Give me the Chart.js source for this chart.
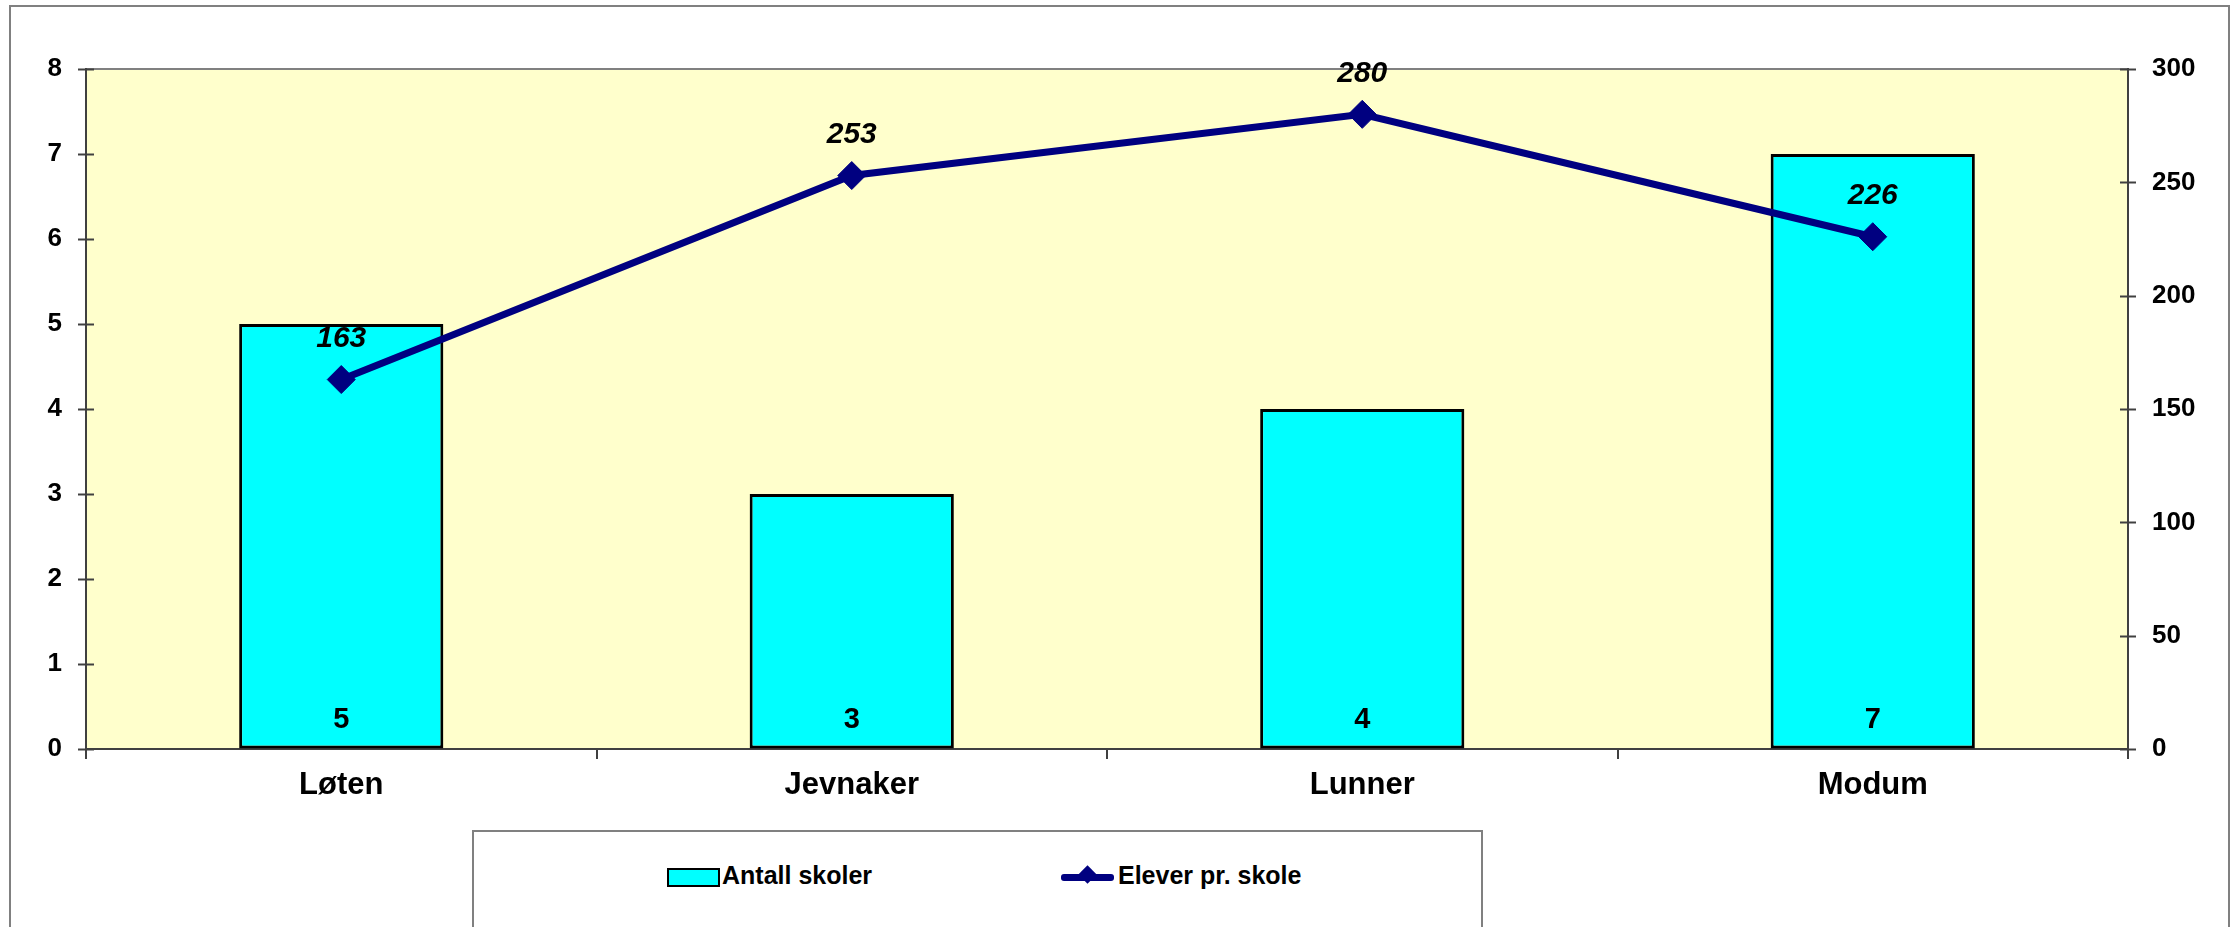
<!DOCTYPE html>
<html>
<head>
<meta charset="utf-8">
<script src="https://cdn.jsdelivr.net/npm/chart.js@4/dist/chart.umd.min.js"></script>
<style>
  body { margin: 0; background: #fff; }
  #wrap { position: relative; width: 2236px; height: 927px; }
  #legend {
    position: absolute; left: 472px; top: 830px; width: 1011px; height: 100px;
    border: 2px solid #808080; box-sizing: border-box; background: #fff;
    font-family: "Liberation Sans Narrow", "Arial Narrow", "Liberation Sans", sans-serif;
    font-weight: bold; font-size: 25px; color: #000;
  }
  .item { position: absolute; top: 28px; height: 30px; line-height: 30px; white-space: nowrap; }
  .swatch { display: inline-block; vertical-align: middle; }
  .box { width: 49px; height: 15px; background: #00ffff; border: 2px solid #000; margin-right: 2px; }
  .ln { position: relative; width: 53px; height: 7px; background: #000080; border-radius: 3px; margin-right: 4px; }
  .ln::after { content: ""; position: absolute; left: 20px; top: -6px; width: 13px; height: 13px;
    background: #000080; transform: rotate(45deg); }
</style>
</head>
<body>
<div id="wrap">
  <canvas id="chart" width="2236" height="927"></canvas>
  <div id="legend">
    <div class="item" style="left:193px"><span class="swatch box"></span>Antall skoler</div>
    <div class="item" style="left:587px"><span class="swatch ln"></span>Elever pr. skole</div>
  </div>
</div>
<script>
const kommuner = ["Løten", "Jevnaker", "Lunner", "Modum"];
const antallSkoler = [5, 3, 4, 7];
const eleverPrSkole = [163, 253, 280, 226];

const fontFam = '"Liberation Sans Narrow", "Arial Narrow", "Liberation Sans", sans-serif';

// bakgrunn, ramme og kryssende tick-streker
const rammePlugin = {
    id: "ramme",
    beforeDraw(chart) {
        const ctx = chart.ctx, a = chart.chartArea;
        ctx.save();
        ctx.fillStyle = "#ffffff";
        ctx.fillRect(0, 0, chart.width, chart.height);
        ctx.strokeStyle = "#808080";
        ctx.lineWidth = 2;
        ctx.strokeRect(10, 6, 2219, 940);
        ctx.fillStyle = "#ffffcc";
        ctx.fillRect(a.left, a.top, a.right - a.left, a.bottom - a.top);
        ctx.beginPath();
        ctx.moveTo(a.left, a.top);
        ctx.lineTo(a.right, a.top);
        ctx.stroke();
        ctx.restore();
    },
    afterDraw(chart) {
        const ctx = chart.ctx, a = chart.chartArea;
        ctx.save();
        ctx.strokeStyle = "#404040";
        ctx.lineWidth = 2;
        ["y", "y1"].forEach(id => {
            const s = chart.scales[id];
            const x = id === "y" ? a.left : a.right;
            s.ticks.forEach(t => {
                const py = Math.round(s.getPixelForValue(t.value)) + 0.5;
                ctx.beginPath();
                ctx.moveTo(x - 8, py);
                ctx.lineTo(x + 8, py);
                ctx.stroke();
            });
        });
        ctx.restore();
    }
};

// verdier på søyler og linje
const etikettPlugin = {
    id: "etiketter",
    afterDatasetsDraw(chart) {
        const ctx = chart.ctx;
        ctx.save();
        ctx.fillStyle = "#000";
        ctx.textAlign = "center";
        ctx.textBaseline = "middle";
        const bars = chart.getDatasetMeta(0).data;
        ctx.font = "bold 29px " + fontFam;
        bars.forEach((b, i) => ctx.fillText(antallSkoler[i], b.x, b.base - 29));
        const pts = chart.getDatasetMeta(1).data;
        ctx.font = "italic bold 30px " + fontFam;
        pts.forEach((p, i) => ctx.fillText(eleverPrSkole[i], p.x, p.y - 41));
        ctx.restore();
    }
};

new Chart(document.getElementById("chart").getContext("2d"), {
    data: {
        labels: kommuner,
        datasets: [
            {
                type: "bar", label: "Antall skoler", data: antallSkoler, yAxisID: "y",
                backgroundColor: "#00ffff", borderColor: "#000000", borderWidth: 3,
                borderSkipped: false, barPercentage: 0.4, categoryPercentage: 1, order: 2
            },
            {
                type: "line", label: "Elever pr. skole", data: eleverPrSkole, yAxisID: "y1",
                borderColor: "#000080", backgroundColor: "#000080", borderWidth: 7,
                pointStyle: "rectRot", pointRadius: 14, pointBorderWidth: 1, tension: 0, order: 1
            }
        ]
    },
    options: {
        responsive: false,
        animation: false,
        layout: { padding: { top: 69, left: 0, right: 0, bottom: 0 } },
        plugins: { legend: { display: false }, tooltip: { enabled: false } },
        scales: {
            x: {
                offset: true,
                grid: { offset: true, drawOnChartArea: false, tickLength: 10, color: "#404040", lineWidth: 2 },
                border: { color: "#404040", width: 2 },
                ticks: { color: "#000", font: { family: fontFam, size: 31, weight: "bold" }, padding: 8 },
                afterFit(s) { s.height = 178; }
            },
            y: {
                position: "left", min: 0, max: 8,
                ticks: { stepSize: 1, color: "#000", font: { family: fontFam, size: 26, weight: "bold" }, padding: 24 },
                grid: { drawOnChartArea: false, drawTicks: false },
                border: { color: "#404040", width: 2 },
                afterFit(s) { s.width = 86; }
            },
            y1: {
                position: "right", min: 0, max: 300,
                ticks: { stepSize: 50, color: "#000", font: { family: fontFam, size: 26, weight: "bold" }, padding: 24 },
                grid: { drawOnChartArea: false, drawTicks: false },
                border: { color: "#404040", width: 2 },
                afterFit(s) { s.width = 108; }
            }
        }
    },
    plugins: [rammePlugin, etikettPlugin]
});
</script>
</body>
</html>
